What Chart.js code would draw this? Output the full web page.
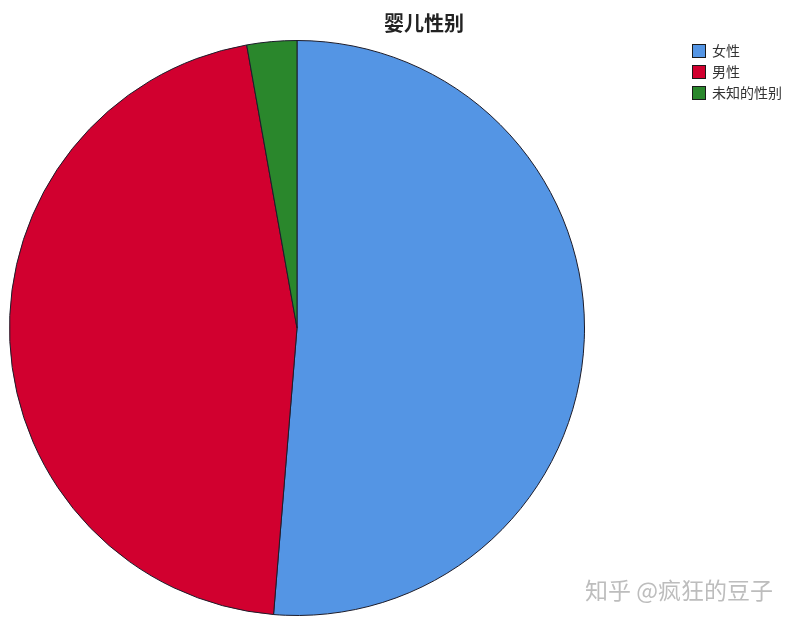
<!DOCTYPE html>
<html lang="zh">
<head>
    <meta charset="UTF-8">
    <title>婴儿性别</title>
    <script src="https://cdn.jsdelivr.net/npm/chart.js"></script>
    <style>
        body { margin: 0; background: #fff; }
        #wrap { position: relative; width: 799px; height: 622px; }
    </style>
</head>
<body>
    <div id="wrap"><canvas id="pie" width="799" height="622"></canvas></div>

    <script>
        // 数据 (百分比, 从图上估计)
        const labels = ['女性', '男性', '未知的性别'];
        const values = [51.3, 45.9, 2.8];
        const colors = ['#5495e4', '#d1002f', '#2a872c'];
        const title = '婴儿性别';
        const watermark = '知乎 @疯狂的豆子';

        const font = '"Noto Sans CJK SC", "Noto Sans", sans-serif';

        // 标题, 图例和水印
        const extras = {
            id: 'extras',
            afterDraw(chart) {
                const c = chart.ctx;
                c.save();
                c.fillStyle = '#222';
                c.font = 'bold 20px ' + font;
                c.textAlign = 'center';
                c.textBaseline = 'middle';
                c.fillText(title, 424, 23);

                c.font = '14px ' + font;
                c.textAlign = 'left';
                labels.forEach((lab, i) => {
                    const y = 44 + i * 21;
                    c.fillStyle = colors[i];
                    c.fillRect(692, y, 14, 14);
                    c.strokeStyle = '#1a1a1a';
                    c.lineWidth = 1;
                    c.strokeRect(692.5, y + 0.5, 13, 13);
                    c.fillStyle = '#333';
                    c.fillText(lab, 712, y + 7);
                });

                c.font = '23px ' + font;
                c.fillStyle = '#bdbdbd';
                c.fillText(watermark, 585, 590);
                c.restore();
            }
        };

        const ctx = document.getElementById('pie').getContext('2d');
        new Chart(ctx, {
            type: 'pie',
            data: {
                labels: labels,
                datasets: [{
                    data: values,
                    backgroundColor: colors,
                    borderColor: '#1c1c2a',
                    borderWidth: 1,
                    hoverOffset: 0
                }]
            },
            options: {
                responsive: false,
                animation: false,
                layout: { padding: { top: 40, left: 9, right: 214, bottom: 6 } },
                plugins: {
                    legend: { display: false },
                    tooltip: { enabled: false }
                }
            },
            plugins: [extras]
        });
    </script>
</body>
</html>
